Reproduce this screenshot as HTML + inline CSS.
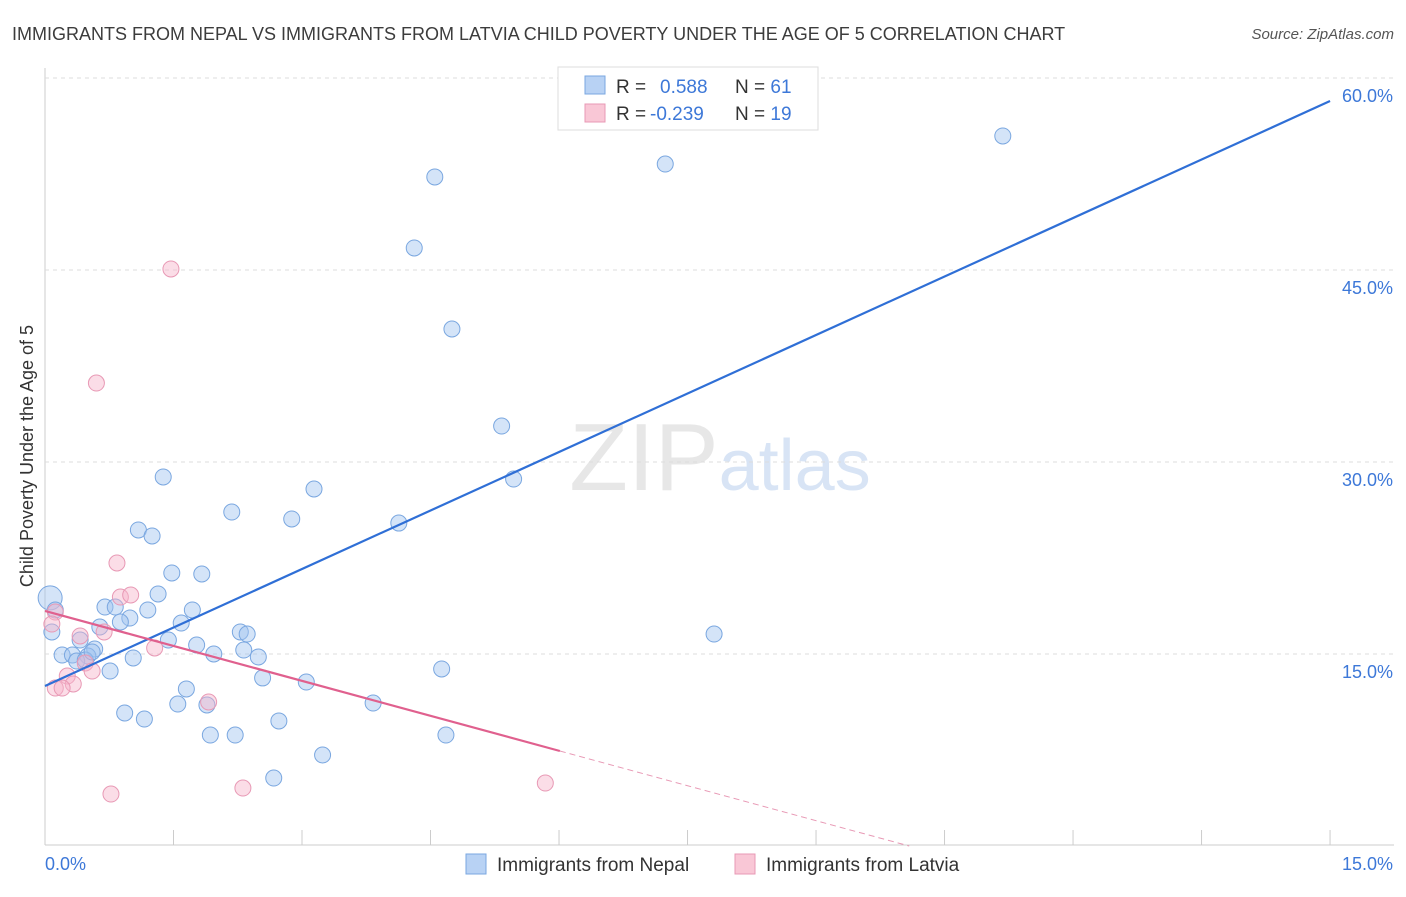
<!DOCTYPE html>
<html><head><meta charset="utf-8"><style>
body{margin:0;background:#fff;font-family:"Liberation Sans",sans-serif;}
svg text{font-family:"Liberation Sans",sans-serif;}
</style></head><body>
<svg id="chart" width="1406" height="892" xmlns="http://www.w3.org/2000/svg">
<text x="12" y="40" font-size="18" fill="#3c3c3c">IMMIGRANTS FROM NEPAL VS IMMIGRANTS FROM LATVIA CHILD POVERTY UNDER THE AGE OF 5 CORRELATION CHART</text>
<text x="1394" y="39" font-size="15" fill="#555" text-anchor="end" font-style="italic">Source: ZipAtlas.com</text>
<text x="720" y="490" font-size="96" text-anchor="middle" fill="#ddd" font-family="Liberation Serif" opacity="0.7">ZIP<tspan fill="#c8daf2" font-family="Liberation Sans" font-size="72">atlas</tspan></text>
<text transform="translate(33,456) rotate(-90)" font-size="18" fill="#333" text-anchor="middle">Child Poverty Under the Age of 5</text>
<g id="grid"></g><g id="pts"></g><g id="lines"></g>
<g>
<rect x="558" y="67" width="260" height="63" fill="#fff" stroke="#ddd"/>
<rect x="585" y="76" width="20" height="18" fill="#b8d2f4" stroke="#7aa7e0"/>
<rect x="585" y="104" width="20" height="18" fill="#f9c7d6" stroke="#e899b5"/>
<text x="616" y="93" font-size="19" fill="#333">R = <tspan fill="#3d78d8" x="660">0.588</tspan><tspan x="735" fill="#333">N = </tspan><tspan fill="#3d78d8">61</tspan></text>
<text x="616" y="120" font-size="19" fill="#333">R = <tspan fill="#3d78d8" x="650">-0.239</tspan><tspan x="735" fill="#333">N = </tspan><tspan fill="#3d78d8">19</tspan></text>
</g>
<g>
<rect x="466" y="854" width="20" height="20" fill="#b8d2f4" stroke="#7aa7e0"/>
<text x="497" y="871" font-size="19" fill="#333">Immigrants from Nepal</text>
<rect x="735" y="854" width="20" height="20" fill="#f9c7d6" stroke="#e899b5"/>
<text x="766" y="871" font-size="19" fill="#333">Immigrants from Latvia</text>
</g>
</svg>
<script>
const yTicks=[15,30,45,60];
const xTickLabels=["0.0%","15.0%"];
const nepalX=[4.55,7.24,11.18,4.31,4.75,5.33,5.47,1.38,3.14,2.18,2.88,4.13,1.09,1.25,1.48,1.83,1.32,0.70,0.82,1.20,1.72,0.99,0.88,0.64,1.59,0.41,1.44,2.28,2.36,1.77,2.32,1.97,2.49,0.58,0.20,0.32,0.50,0.37,1.03,0.76,4.63,7.81,2.54,3.05,1.65,1.55,1.89,3.83,0.93,1.16,2.73,1.93,2.22,4.68,3.24,2.67,0.06,0.12,0.08,0.47,0.55];
const nepalY=[52.27,53.28,55.47,46.72,40.39,32.81,28.67,28.83,27.89,26.09,25.55,25.23,24.69,24.22,21.33,21.25,19.69,18.67,18.67,18.44,18.44,17.81,17.5,17.11,17.42,16.09,16.09,16.72,16.56,15.7,15.31,15.0,14.77,15.39,14.92,14.92,14.84,14.45,14.69,13.67,13.83,16.56,13.13,12.81,12.27,11.09,11.02,11.17,10.39,9.92,9.77,8.67,8.67,8.67,7.11,5.31,19.38,18.44,16.72,14.53,15.16];
const latviaX=[1.47,0.60,0.84,0.88,1.00,0.12,0.08,0.41,0.69,1.28,0.47,0.55,0.26,0.33,0.12,0.20,1.91,2.31,0.77,5.84];
const latviaY=[45.08,36.17,22.11,19.45,19.61,18.28,17.34,16.41,16.72,15.47,14.30,13.67,13.28,12.66,12.34,12.34,11.25,4.53,4.06,4.92];
const nepalTrend=[12.5,58.2];
const latviaTrend=[18.36,-1.82];
const X=v=>45+v*85.67, Y=v=>846-v*12.8;
const NS="http://www.w3.org/2000/svg";
function mk(parent,tag,attrs){const e=document.createElementNS(NS,tag);for(const k in attrs)e.setAttribute(k,attrs[k]);document.getElementById(parent).appendChild(e);return e;}
let e;
e=mk("grid","line",{x1:45,y1:68,x2:45,y2:845,stroke:"#ccc"});


e=mk("grid","line",{x1:45,y1:845,x2:1394,y2:845,stroke:"#ccc"});


for(let i=0;i<=10;i++){e=mk("grid","line",{x1:X(i*1.5),y1:830,x2:X(i*1.5),y2:845,stroke:"#ccc"});

}
yTicks.forEach(t=>{e=mk("grid","line",{x1:45,y1:Y(t),x2:1394,y2:Y(t),stroke:"#ddd","stroke-dasharray":"4,4"});


e=mk("grid","text",{x:1393,y:Y(t)+24,"font-size":18,fill:"#3d78d8","text-anchor":"end"});e.textContent=t.toFixed(1)+"%";

});
e=mk("grid","text",{x:45,y:870,"font-size":18,fill:"#3d78d8"});e.textContent=xTickLabels[0];


e=mk("grid","text",{x:1393,y:870,"font-size":18,fill:"#3d78d8","text-anchor":"end"});e.textContent=xTickLabels[1];


nepalX.forEach((x,i)=>{e=mk("pts","circle",{cx:X(x),cy:Y(nepalY[i]),r:i==56?12:8,fill:"rgba(160,196,240,0.45)",stroke:"#7aa7e0","stroke-width":1});

});
latviaX.forEach((x,i)=>{e=mk("pts","circle",{cx:X(x),cy:Y(latviaY[i]),r:8,fill:"rgba(247,180,202,0.45)",stroke:"#e899b5","stroke-width":1});

});
e=mk("lines","line",{x1:X(0),y1:Y(nepalTrend[0]),x2:X(15),y2:Y(nepalTrend[1]),stroke:"#2f6fd6","stroke-width":2.2});


const lx=6.01, lz=-latviaTrend[0]/latviaTrend[1];
e=mk("lines","line",{x1:X(0),y1:Y(latviaTrend[0]),x2:X(lx),y2:Y(latviaTrend[0]+latviaTrend[1]*lx),stroke:"#e0608e","stroke-width":2.2});


e=mk("lines","line",{x1:X(lx),y1:Y(latviaTrend[0]+latviaTrend[1]*lx),x2:X(lz),y2:Y(0),stroke:"#e899b5","stroke-width":1,"stroke-dasharray":"6,4"});


</script>
</body></html>
